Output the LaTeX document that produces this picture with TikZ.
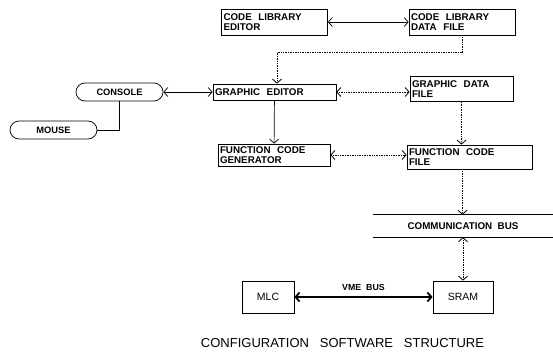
\documentclass[tikz,border=0pt]{standalone}
\usepackage{fontspec}
\setsansfont{Liberation Sans}
\usetikzlibrary{arrows.meta, positioning}

\begin{document}
\begin{tikzpicture}[
  x=1pt, y=-1pt,
  font=\sffamily\bfseries\fontsize{9.8}{9.5}\selectfont,
  box/.style 2 args={draw, line width=0.75pt, align=left, inner sep=2pt, text width=#1, minimum height=#2},
  pill/.style={draw, line width=0.75pt, rounded corners=9pt, minimum width=87pt, minimum height=18pt, inner sep=0pt, font=\sffamily\bfseries\fontsize{9.3}{10}\selectfont},
  arr/.style={-{Straight Barb[length=4pt,width=9pt]}, line width=0.7pt},
  both/.style={{Straight Barb[length=4pt,width=9pt]}-{Straight Barb[length=4pt,width=9pt]}, line width=0.7pt},
  dots/.style={densely dotted, line width=0.8pt}
]
\useasboundingbox (0,0) rectangle (553,363);

% top row
\node[box={102pt}{26pt}] (cle) at (274.5,22) {CODE\ \ LIBRARY\\EDITOR};
\node[box={102pt}{26pt}] (cldf) at (462,22) {CODE\ \ LIBRARY\\DATA\ \ FILE};

% middle rows
\node[pill] (console) at (119.5,92) {CONSOLE};
\node[pill] (mouse) at (53.5,130) {MOUSE};
\node[box={119pt}{16pt}] (ged) at (274.5,92) {GRAPHIC\ \ EDITOR};
\node[box={99pt}{25pt}] (gdf) at (461.5,89) {GRAPHIC\ \ DATA\\FILE};
\node[box={108pt}{22pt}] (fcg) at (274,155) {FUNCTION\ \ CODE\\GENERATOR};
\node[box={121pt}{24pt}] (fcf) at (469.5,157) {FUNCTION\ \ CODE\\FILE};

% bus and hardware
\node[minimum width=180pt, minimum height=22pt, inner sep=0pt, font=\sffamily\bfseries\fontsize{9.8}{10}\selectfont] (bus) at (463,226) {COMMUNICATION\ \ BUS};
\draw[line width=0.8pt] (bus.north west) -- (bus.north east);
\draw[line width=0.8pt] (bus.south west) -- (bus.south east);
\node[box={48pt}{32pt}, align=center, font=\sffamily\fontsize{10.5}{11}\selectfont] (mlc) at (268,297) {MLC};
\node[box={56pt}{32pt}, align=center, font=\sffamily\fontsize{10.5}{11}\selectfont] (sram) at (463,297) {SRAM};

% connectors
\draw[both] (cle) -- (cldf);
\draw[arr, dots] (cldf.south) -- ++(0,17) -| ([xshift=2.5pt]ged.north);
\draw[both] (console) -- (ged);
\draw[line width=0.7pt] (mouse.east) -| (console.south);
\draw[arr] (ged) -- (fcg);
\draw[both, dots] (ged) -- (ged -| gdf.west);
\draw[arr, dots] (gdf.south) -- (gdf.south |- fcf.north);
\draw[both, dots] (fcg.east) -- (fcg.east -| fcf.west);
\draw[arr, dots] ([xshift=-7pt]fcf.south) -- ([xshift=-7pt]fcf.south |- bus.north);
\draw[both, dots] (bus.south) -- (bus.south |- sram.north);
\draw[both, line width=1.8pt] (mlc) -- node[above=2pt, font=\sffamily\bfseries\fontsize{8.8}{9}\selectfont] (vme) {VME\ \ BUS} (sram);

\node[font=\sffamily\fontsize{13}{14}\selectfont] (title) at (342.5,343) {CONFIGURATION\ \ \ SOFTWARE\ \ \ STRUCTURE};
\end{tikzpicture}
\end{document}
